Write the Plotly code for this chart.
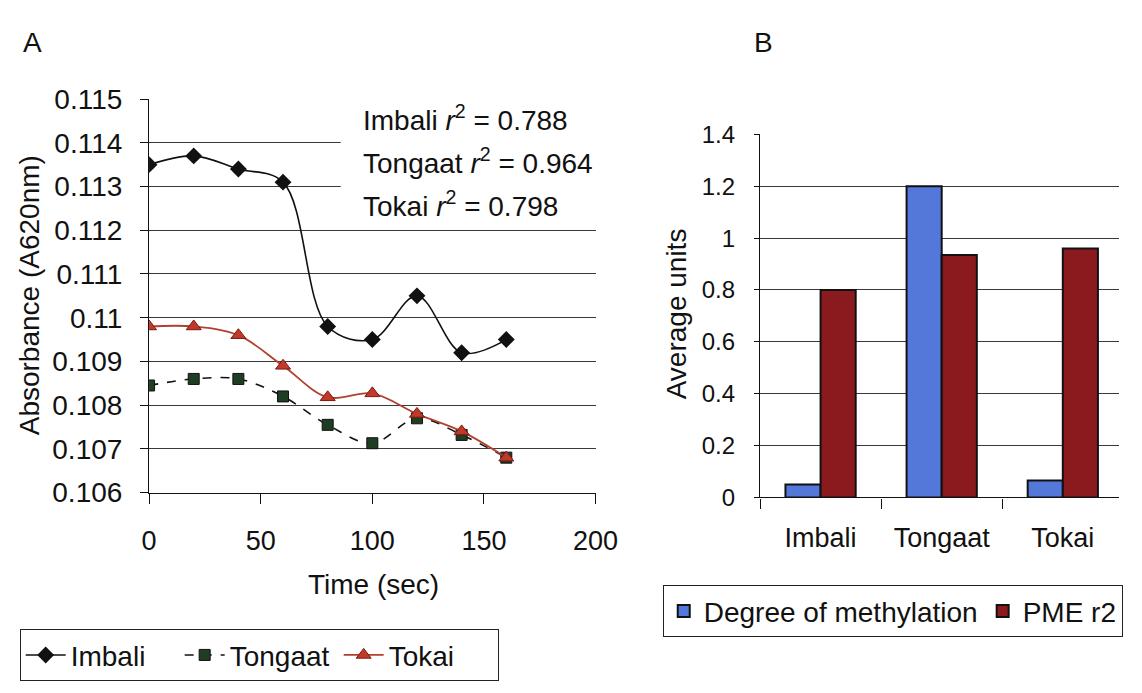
import plotly.graph_objects as go

# ---- Panel A: absorbance over time ----
time_sec = [0, 20, 40, 60, 80, 100, 120, 140, 160]
imbali = [0.1135, 0.1137, 0.1134, 0.1131, 0.1098, 0.1095, 0.1105, 0.1092, 0.1095]
tongaat = [0.10845, 0.1086, 0.1086, 0.1082, 0.10755, 0.10713, 0.1077, 0.10732, 0.1068]
tokai = [0.1098, 0.1098, 0.1096, 0.1089, 0.10818, 0.10827, 0.1078, 0.1074, 0.1068]

abs_tickvals = [0.106, 0.107, 0.108, 0.109, 0.110, 0.111, 0.112, 0.113, 0.114, 0.115]
abs_ticktext = ["0.106", "0.107", "0.108", "0.109", "0.11", "0.111", "0.112", "0.113", "0.114", "0.115"]

r2_labels = ["Imbali", "Tongaat", "Tokai"]
r2_values = ["0.788", "0.964", "0.798"]

# ---- Panel B: average units per cultivar ----
cultivars = ["Imbali", "Tongaat", "Tokai"]
methylation = [0.05, 1.2, 0.065]
pme_r2 = [0.80, 0.935, 0.96]

units_tickvals = [0, 0.2, 0.4, 0.6, 0.8, 1.0, 1.2, 1.4]
units_ticktext = ["0", "0.2", "0.4", "0.6", "0.8", "1", "1.2", "1.4"]

W, H = 1142, 693
FONT = "Liberation Sans, Arial, sans-serif"


def px_x(p):
    return p / W


def px_y(p):
    return 1 - p / H


fig = go.Figure()

fig.add_trace(go.Scatter(
    x=time_sec, y=imbali, name="Imbali", mode="lines+markers",
    line=dict(color="#111111", width=1.6, shape="spline", smoothing=1.0),
    marker=dict(symbol="diamond", size=13, color="#111111"),
    xaxis="x", yaxis="y", legend="legend",
))
fig.add_trace(go.Scatter(
    x=time_sec, y=tongaat, name="Tongaat", mode="lines+markers",
    line=dict(color="#111111", width=1.6, dash="dash", shape="spline", smoothing=1.0),
    marker=dict(symbol="square", size=11, color="#1f3d22",
                line=dict(color="#111111", width=1)),
    xaxis="x", yaxis="y", legend="legend",
))
fig.add_trace(go.Scatter(
    x=time_sec, y=tokai, name="Tokai", mode="lines+markers",
    line=dict(color="#b0412c", width=1.8, shape="spline", smoothing=1.0),
    marker=dict(symbol="triangle-up", size=13, color="#c0392b",
                line=dict(color="#7a1a10", width=1)),
    xaxis="x", yaxis="y", legend="legend",
))

fig.add_trace(go.Bar(
    x=cultivars, y=methylation, name="Degree of methylation",
    marker=dict(color="#5478da", line=dict(color="#111111", width=2)),
    xaxis="x2", yaxis="y2", legend="legend2",
))
fig.add_trace(go.Bar(
    x=cultivars, y=pme_r2, name="PME r2",
    marker=dict(color="#8b1a1f", line=dict(color="#111111", width=2)),
    xaxis="x2", yaxis="y2", legend="legend2",
))

axis_common = dict(
    showline=True, linecolor="#111111", linewidth=1.2,
    ticks="outside", tickcolor="#111111", zeroline=False,
)

annotations = [
    dict(text="A", x=px_x(25), y=px_y(29), xref="paper", yref="paper",
         xanchor="center", yanchor="middle", showarrow=False,
         font=dict(size=28, color="#111111")),
    dict(text="B", x=px_x(777), y=px_y(29), xref="paper", yref="paper",
         xanchor="center", yanchor="middle", showarrow=False,
         font=dict(size=28, color="#111111")),
    dict(text="Absorbance (A620nm)", x=px_x(22), y=px_y(293), xref="paper", yref="paper",
         xanchor="center", yanchor="middle", textangle=-90, showarrow=False,
         font=dict(size=28, color="#111111")),
    dict(text="Time (sec)", x=px_x(376), y=px_y(596), xref="paper", yref="paper",
         xanchor="center", yanchor="middle", showarrow=False,
         font=dict(size=28, color="#111111")),
    dict(text="Average units", x=px_x(688), y=px_y(313), xref="paper", yref="paper",
         xanchor="center", yanchor="middle", textangle=-90, showarrow=False,
         font=dict(size=28, color="#111111")),
]
for i, (lab, val) in enumerate(zip(r2_labels, r2_values)):
    annotations.append(dict(
        text=f"{lab} <i>r</i><sup>2</sup> = {val}",
        x=px_x(363), y=px_y(108 + 45 * i), xref="paper", yref="paper",
        xanchor="left", yanchor="middle", showarrow=False,
        font=dict(size=28, color="#111111"),
    ))

fig.update_layout(
    width=W, height=H, autosize=False,
    margin=dict(l=0, r=0, t=0, b=0),
    paper_bgcolor="white", plot_bgcolor="white",
    font=dict(family=FONT, size=26, color="#111111"),
    barmode="group", bargap=0.42, bargroupgap=0,
    xaxis=dict(
        domain=[px_x(145), px_x(604)], range=[0, 200], dtick=50,
        showgrid=False, ticklen=10, ticklabelstandoff=14,
        tickfont=dict(size=27), anchor="y", **axis_common,
    ),
    yaxis=dict(
        domain=[px_y(500), px_y(88)], range=[0.106, 0.115],
        tickvals=abs_tickvals, ticktext=abs_ticktext,
        showgrid=True, gridcolor="#3a3a3a", gridwidth=1,
        ticklen=8, ticklabelstandoff=12, tickfont=dict(size=28),
        anchor="x", **axis_common,
    ),
    xaxis2=dict(
        domain=[px_x(773), 1.0], range=[-0.5, 2.464], type="category",
        showgrid=False, ticklen=10, tickson="boundaries", ticklabelstandoff=16,
        tickfont=dict(size=27), anchor="y2", **axis_common,
    ),
    yaxis2=dict(
        domain=[px_y(505), px_y(125)], range=[0, 1.4],
        tickvals=units_tickvals, ticktext=units_ticktext,
        showgrid=True, gridcolor="#3a3a3a", gridwidth=1,
        ticklen=5, ticklabelstandoff=14, tickfont=dict(size=24),
        anchor="x2", **axis_common,
    ),
    legend=dict(
        orientation="h", x=px_x(12), y=px_y(643), xanchor="left", yanchor="top",
        bordercolor="#222222", borderwidth=1, bgcolor="white",
        font=dict(size=28), itemwidth=40, traceorder="normal",
        entrywidth=104, entrywidthmode="pixels",
    ),
    legend2=dict(
        orientation="h", x=px_x(673), y=px_y(597), xanchor="left", yanchor="top",
        bordercolor="#222222", borderwidth=1, bgcolor="white",
        font=dict(size=28), itemwidth=30, traceorder="normal",
    ),
    shapes=[
        # white panel behind the r² annotations
        dict(type="rect", xref="paper", yref="paper",
             x0=px_x(342), x1=px_x(607), y0=px_y(219), y1=px_y(82),
             fillcolor="white", line=dict(width=0), layer="above"),
    ],
    annotations=annotations,
)

fig.write_html("out.html")
